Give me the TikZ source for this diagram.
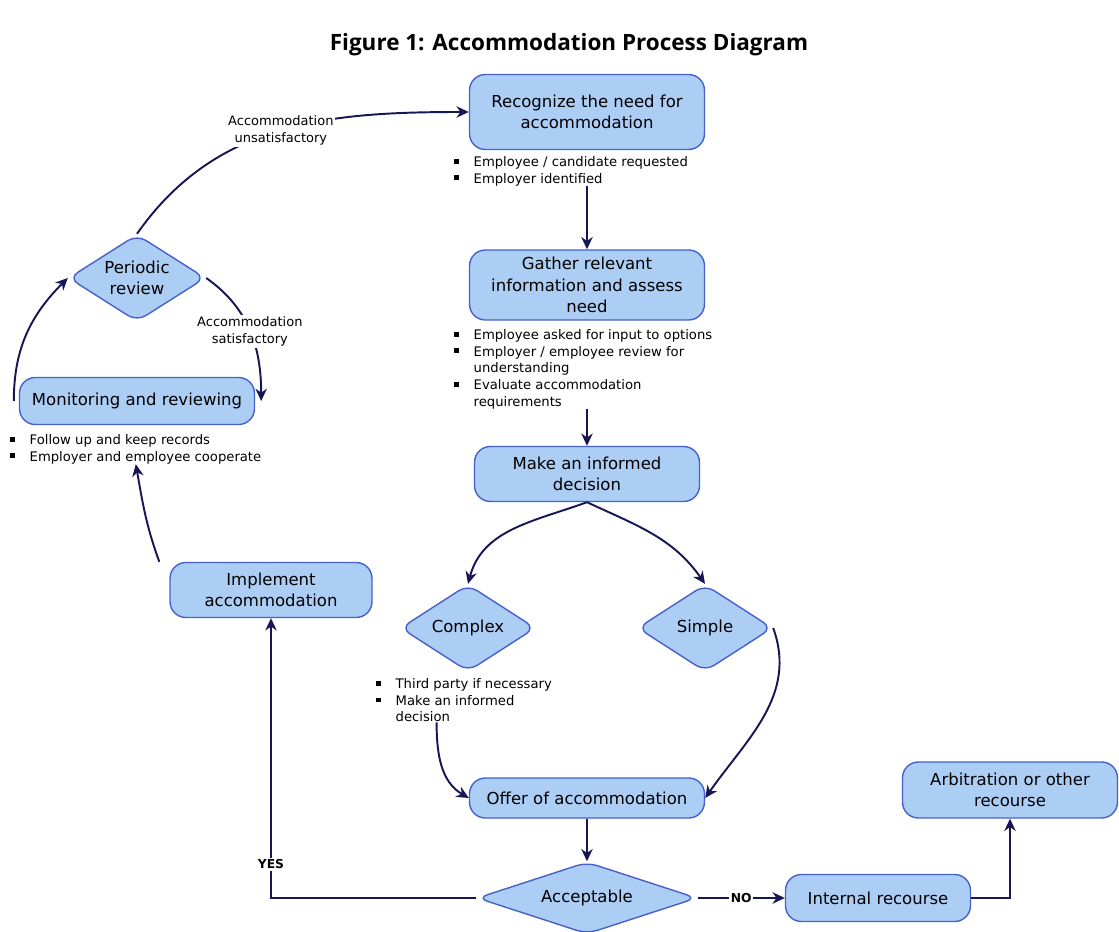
\documentclass[tikz,border=0pt]{standalone}
\usepackage{fontspec}
\setmainfont{DejaVu Sans}
\newfontfamily\titlefont{Open Sans}
\usetikzlibrary{shapes.geometric,arrows.meta}

\definecolor{boxfill}{RGB}{172,205,244}
\definecolor{boxline}{RGB}{72,96,205}
\definecolor{flowcol}{RGB}{22,22,82}

\newcommand{\itm}{\makebox[11pt][l]{\raisebox{1.6pt}{\rule{2.7pt}{2.7pt}}}}
\newcommand{\cont}{\hspace*{11pt}}

\tikzset{
    stepbox/.style={draw=boxline, fill=boxfill, line width=0.8pt,
        rounded corners=9pt, align=center, inner sep=2pt,
        font=\fontsize{9.4}{12.2}\selectfont},
    choice/.style={diamond, draw=boxline, fill=boxfill, line width=0.8pt,
        rounded corners=6pt, align=center, inner sep=0pt,
        font=\fontsize{9.4}{12.2}\selectfont},
    notes/.style={anchor=north west, align=left, inner sep=0pt,
        font=\fontsize{7.5}{9.5}\selectfont},
    flow/.style={draw=flowcol, line width=1.1pt,
        -{Stealth[length=7pt,width=6.5pt]}},
    tag/.style={fill=white, align=center, inner sep=1pt,
        font=\fontsize{7.4}{9.6}\selectfont},
    yesno/.style={fill=white, inner sep=1pt,
        font=\bfseries\fontsize{7}{8}\selectfont},
}

\begin{document}
\begin{tikzpicture}[x=0.02cm,y=-0.02cm]

\useasboundingbox (0,0) rectangle (1119,932);

% Titre
\node[font=\titlefont\bfseries\fontsize{12.8}{15}\selectfont] (title)
at (569,45)
{Figure 1: Accommodation Process Diagram};

% Colonne centrale
\node[stepbox, minimum width=4.7cm, minimum height=1.5cm] (recognize)
at (587,112)
{Recognize the need for\\accommodation};

\node[notes] (recognizenotes)
at (454,156)
{\itm Employee / candidate requested\\
 \itm Employer identified};

\node[stepbox, minimum width=4.7cm, minimum height=1.4cm] (gather)
at (587,285)
{Gather relevant\\information and assess\\need};

\node[notes] (gathernotes)
at (454,329)
{\itm Employee asked for input to options\\
 \itm Employer / employee review for\\
 \cont understanding\\
 \itm Evaluate accommodation\\
 \cont requirements};

\node[stepbox, minimum width=4.5cm, minimum height=1.1cm] (decision)
at (587,474)
{Make an informed\\decision};

\node[choice, aspect=1.55, minimum width=2.7cm, minimum height=1.74cm] (complex)
at (468,628)
{Complex};

\node[choice, aspect=1.55, minimum width=2.7cm, minimum height=1.74cm] (simple)
at (705,628)
{Simple};

\node[notes] (complexnotes)
at (376,678)
{\itm Third party if necessary\\
 \itm Make an informed\\
 \cont decision};

\node[stepbox, minimum width=4.7cm, minimum height=0.8cm] (offer)
at (587,798)
{Offer of accommodation};

\node[choice, aspect=3.05, minimum width=4.4cm, minimum height=1.44cm] (acceptable)
at (587,898)
{Acceptable};

\node[stepbox, minimum width=3.7cm, minimum height=0.94cm] (internal)
at (878,898)
{Internal recourse};

\node[stepbox, minimum width=4.3cm, minimum height=1.12cm] (arbitration)
at (1010,790)
{Arbitration or other\\recourse};

% Boucle de gauche
\node[stepbox, minimum width=4.04cm, minimum height=1.1cm] (implement)
at (271,590)
{Implement\\accommodation};

\node[stepbox, minimum width=4.7cm, minimum height=0.94cm] (monitoring)
at (137,401)
{Monitoring and reviewing};

\node[notes] (monitoringnotes)
at (10,434)
{\itm Follow up and keep records\\
 \itm Employer and employee cooperate};

\node[choice, aspect=1.57, minimum width=2.74cm, minimum height=1.74cm] (periodic)
at (137,278)
{Periodic\\review};

% Liaisons
\draw[flow]
(recognize.south |- recognizenotes.south)
--
(gather.north);

\draw[flow]
(gather.south |- gathernotes.south)
--
(decision.north);

\draw[flow]
(decision.south)
to[out=200,in=75]
(complex.north);

\draw[flow]
(decision.south)
to[out=-25,in=125]
(simple.north);

\draw[flow]
([xshift=-0.55cm]complexnotes.south)
to[out=-90,in=150]
(offer.west);

\draw[flow]
(simple.east)
to[out=-70,in=55]
(offer.east);

\draw[flow]
(offer.south)
--
(acceptable.north);

\draw[flow]
(acceptable.east)
-- node[yesno] {NO}
(internal.west);

\draw[flow]
(internal.east)
-|
(arbitration.south);

\draw[flow]
(acceptable.west)
-| node[yesno, pos=0.56] {YES}
(implement.south);

\draw[flow]
([xshift=-0.2cm]implement.north west)
to[out=110,in=-80]
(monitoringnotes.south);

\draw[flow]
([xshift=-0.1cm]monitoring.west)
to[out=90,in=-135]
(periodic.west);

\draw[flow]
(periodic.east)
to[out=-35,in=90] node[tag] {Accommodation\\satisfactory}
([xshift=0.12cm]monitoring.east);

\draw[flow]
(periodic.north)
to[out=55,in=180] node[tag] {Accommodation\\unsatisfactory}
(recognize.west);

\end{tikzpicture}
\end{document}
